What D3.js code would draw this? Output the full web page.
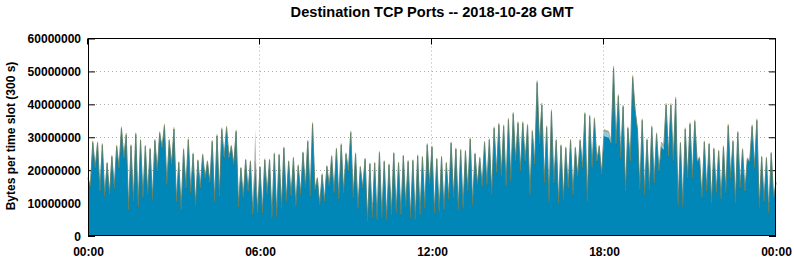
<!DOCTYPE html>
<html lang="en">
<head>
<meta charset="UTF-8">
<title>Destination TCP Ports -- 2018-10-28 GMT</title>
<script src="https://cdn.jsdelivr.net/npm/d3@7"></script>
<style>
    body { margin: 0; background: #fff; }
    text { font-family: "Liberation Sans", Arial, Helvetica, sans-serif; font-weight: bold; fill: #000; }
    .grid line { stroke: #ababab; stroke-width: 1; stroke-dasharray: 1,3; }
</style>
</head>
<body>
<svg width="794" height="260"></svg>
<script>
// bytes per 300 s slot, one value per slot from 00:00 to 00:00 next day
// main port, in millions of bytes
const mainBytes = [
    17.5,14.9,28.4,20.5,28.2,13.4,27.7,11.9,22.1,12.4,24.1,14.4,27.2,20.5,32.7,23.5,30.7,7.8,27.4,10.3,30.9,8.8,29.0,11.4,
    27.2,12.4,26.4,10.9,29.0,19.5,31.2,26.6,33.5,15.4,29.0,21.5,32.5,10.3,22.3,7.8,26.2,14.4,29.2,12.9,24.9,9.1,22.9,14.4,
    24.6,17.4,22.6,15.9,28.7,10.3,30.4,11.9,32.4,23.5,32.9,23.5,27.2,21.5,31.7,8.8,20.6,11.4,23.1,13.4,22.6,6.3,22.6,6.8,
    20.9,6.8,23.1,12.4,23.1,5.3,24.9,5.8,24.6,8.3,26.7,10.3,22.6,11.9,23.6,8.8,21.3,12.4,25.3,14.4,28.7,11.9,34.0,13.9,
    17.5,9.3,18.6,10.3,21.1,14.9,24.1,12.9,26.4,10.9,27.7,12.9,24.9,19.5,31.4,11.4,24.9,8.3,20.9,14.4,23.3,4.3,21.9,5.3,
    22.1,4.8,25.3,5.3,22.6,4.8,21.6,6.3,25.1,6.8,22.1,6.3,24.3,8.8,22.6,5.3,22.9,4.8,24.3,6.3,23.9,8.3,27.7,15.4,
    27.0,6.8,23.3,7.3,23.9,7.8,22.1,10.9,28.2,11.4,26.4,7.8,26.0,8.3,25.7,13.4,29.4,9.3,24.9,15.4,23.6,14.9,28.4,15.4,
    29.2,12.4,32.7,19.0,33.8,17.9,33.3,14.9,35.3,16.4,37.1,22.5,34.3,19.5,34.3,22.5,33.5,12.4,31.7,21.5,46.6,27.6,39.8,15.9,
    33.0,10.3,37.8,15.9,29.0,9.8,27.4,10.9,26.7,14.4,29.0,12.4,26.7,17.9,29.0,20.5,37.1,10.3,36.3,20.5,35.5,22.5,27.2,18.5,
    30.4,30.1,29.9,28.1,51.0,27.6,42.4,23.5,39.3,13.4,32.7,22.5,48.2,38.2,32.2,13.9,35.1,12.4,29.2,13.9,33.0,15.9,31.0,19.5,
    27.2,26.1,39.8,24.0,39.8,22.5,41.6,9.3,28.2,8.8,32.4,17.4,34.0,17.4,34.8,22.5,23.6,11.4,28.5,13.4,27.9,9.8,26.4,12.9,
    25.7,10.9,27.0,12.9,33.5,17.4,28.7,9.8,31.4,14.4,26.2,13.4,23.3,22.5,33.3,20.5,35.1,8.3,23.9,10.3,23.6,6.8,25.1,11.4,16.2
];
// second layer, in units of 100000 bytes
const oliveBytes = [
    3,2,5,2,4,2,4,1,3,2,4,2,4,2,5,3,6,1,4,2,5,1,4,2,
    4,2,4,1,4,2,5,3,5,2,4,3,5,2,3,1,4,2,4,2,4,1,3,2,
    4,2,3,2,4,1,5,2,5,3,5,3,4,2,5,1,3,2,3,2,3,1,3,1,
    3,1,4,2,3,1,4,1,4,1,4,2,3,2,4,1,4,2,3,1,4,2,5,2,
    3,1,3,2,3,2,4,2,4,2,4,2,4,3,5,2,4,1,3,2,4,1,3,1,
    3,1,4,1,3,1,4,1,3,1,4,1,3,1,4,1,3,1,4,1,4,1,4,2,
    4,1,4,1,4,1,3,2,4,2,4,1,4,1,4,2,5,1,4,2,4,2,4,2,
    4,2,5,3,5,3,5,2,5,2,5,3,5,3,5,3,5,2,5,3,6,4,6,2,
    5,1,6,2,4,1,4,2,4,2,4,2,4,3,4,3,5,1,5,3,5,3,4,2,
    3,3,3,3,6,4,6,3,5,2,5,3,6,5,5,2,5,2,4,2,5,2,4,3,
    3,3,5,3,5,3,6,1,4,1,5,2,5,2,5,3,4,2,4,2,4,1,4,2,
    4,2,4,2,5,2,4,1,4,2,4,2,4,3,5,3,5,1,4,1,4,1,4,2,2
];
// top layer, in units of 100000 bytes
const greyBytes = [
    2,1,3,1,3,1,3,1,2,1,3,1,3,1,3,2,3,1,3,1,3,1,3,1,
    3,1,3,1,3,1,3,2,3,1,3,2,3,1,2,1,3,1,3,1,3,1,2,1,
    3,1,2,1,3,1,3,1,3,2,3,2,3,1,3,1,2,1,2,1,2,1,95,1,
    2,1,3,1,2,1,3,1,3,1,3,1,2,1,3,1,3,1,2,1,3,1,3,1,
    3,1,3,1,3,1,3,1,3,1,3,1,3,2,4,1,3,1,3,1,3,1,3,1,
    3,1,3,1,3,1,3,1,3,1,3,1,3,1,3,1,3,1,3,1,3,1,3,1,
    3,1,3,1,3,1,3,1,3,1,3,1,3,1,3,1,3,1,3,1,3,1,3,1,
    3,1,3,2,3,2,3,1,3,1,3,2,3,2,3,2,3,1,3,2,4,2,4,1,
    3,1,4,1,3,1,3,1,3,1,3,1,3,2,3,2,3,1,3,2,3,2,3,1,
    3,3,3,2,4,2,4,2,3,1,3,2,4,3,3,1,3,1,3,1,3,1,3,2,
    3,3,3,2,3,2,4,1,3,1,3,1,3,1,3,2,3,1,3,1,3,1,3,1,
    3,1,3,1,3,1,3,1,3,1,3,1,3,2,3,2,3,1,3,1,3,1,3,1,1
];
// pale layer only shows up in a few slots (millions of bytes)
const paleSlots = [216, 217, 218, 219, 240, 241];
const paleBytes = [1.5, 1.5, 1.5, 0.3, 1.0, 1.0];

const hourTicks = [0, 6, 12, 18, 24];
const hourLabels = ["00:00", "06:00", "12:00", "18:00", "00:00"];
const yTicks = [0, 10000000, 20000000, 30000000, 40000000, 50000000, 60000000];

var plotLeft = 88, plotRight = 776, plotTop = 38.5, plotBottom = 236;
var svg = d3.select("svg");

var rows = mainBytes.map(function(v, i) {
    var p = paleSlots.indexOf(i);
    return {
        hour: i / 12,
        main: v * 1e6,
        pale: p >= 0 ? paleBytes[p] * 1e6 : 0,
        olive: oliveBytes[i] * 1e5,
        grey: greyBytes[i] * 1e5
    };
});

var keys = ["main", "pale", "olive", "grey"];
var fills = { main: "#0087b8", pale: "#8fcbe5", olive: "#8e8a40", grey: "#b4b4b4" };
var strokes = { main: "#1b6e8f", pale: "none", olive: "#8e8a40", grey: "none" };
var widths = { main: 0.8, pale: 0, olive: 0.4, grey: 0 };

var x = d3.scaleLinear().domain([0, 24]).range([plotLeft, plotRight]);
var y = d3.scaleLinear().domain([0, 60000000]).range([plotBottom, plotTop]);

// grid behind everything
var grid = svg.append("g").attr("class", "grid");
grid.selectAll(".gy").data(yTicks.slice(1, -1)).enter().append("line")
    .attr("x1", plotLeft).attr("x2", plotRight)
    .attr("y1", d => Math.round(y(d)) + 0.5).attr("y2", d => Math.round(y(d)) + 0.5);
grid.selectAll(".gx").data(hourTicks.slice(1, -1)).enter().append("line")
    .attr("x1", d => Math.round(x(d)) - 0.5).attr("x2", d => Math.round(x(d)) - 0.5)
    .attr("y1", plotTop).attr("y2", plotBottom);

// tick marks (behind the data, like the original)
svg.append("g")
    .attr("transform", "translate(" + plotLeft + ",0)")
    .call(d3.axisLeft(y).tickValues(yTicks).tickSize(-7).tickPadding(7).tickFormat(d3.format("d")))
    .call(g => g.select(".domain").remove())
    .call(g => g.selectAll("text").style("font-size", "12px").attr("dy", "0.36em"));
svg.append("g")
    .attr("transform", "translate(" + plotRight + ",0)")
    .call(d3.axisRight(y).tickValues(yTicks).tickSize(-7).tickFormat(""))
    .call(g => g.select(".domain").remove());
svg.append("g")
    .attr("transform", "translate(-1," + plotTop + ")")
    .call(d3.axisTop(x).tickValues(hourTicks).tickSize(-6).tickFormat(""))
    .call(g => g.select(".domain").remove());
svg.append("g")
    .attr("transform", "translate(0," + plotBottom + ")")
    .call(d3.axisBottom(x).tickValues(hourTicks).tickSize(0).tickPadding(11)
        .tickFormat((d, i) => hourLabels[i]))
    .call(g => g.select(".domain").remove())
    .call(g => g.selectAll("text").style("font-size", "12px"));

// stacked areas
var series = d3.stack().keys(keys)(rows);
var area = d3.area()
    .x(d => x(d.data.hour))
    .y0(d => y(d[0]))
    .y1(d => y(d[1]));
var topLine = d3.line()
    .x(d => x(d.data.hour))
    .y(d => y(d[1]));

var layers = svg.selectAll(".layer").data(series).enter().append("g").attr("class", "layer");
layers.append("path")
    .attr("d", area)
    .attr("fill", d => fills[d.key]);
layers.filter(d => strokes[d.key] != "none").append("path")
    .attr("d", topLine)
    .attr("fill", "none")
    .attr("stroke", d => strokes[d.key])
    .attr("stroke-width", d => widths[d.key]);

// frame
svg.append("rect")
    .attr("x", plotLeft + 0.5).attr("y", plotTop)
    .attr("width", plotRight - plotLeft - 1).attr("height", plotBottom - plotTop - 0.5)
    .attr("fill", "none").attr("stroke", "#000").attr("stroke-width", 1);

svg.append("text")
    .attr("x", 432).attr("y", 17)
    .attr("text-anchor", "middle")
    .style("font-size", "14.6px")
    .text("Destination TCP Ports -- 2018-10-28 GMT");

svg.append("text")
    .attr("transform", "translate(15,136) rotate(-90)")
    .attr("text-anchor", "middle")
    .style("font-size", "12px")
    .text("Bytes per time slot (300 s)");
</script>
</body>
</html>
